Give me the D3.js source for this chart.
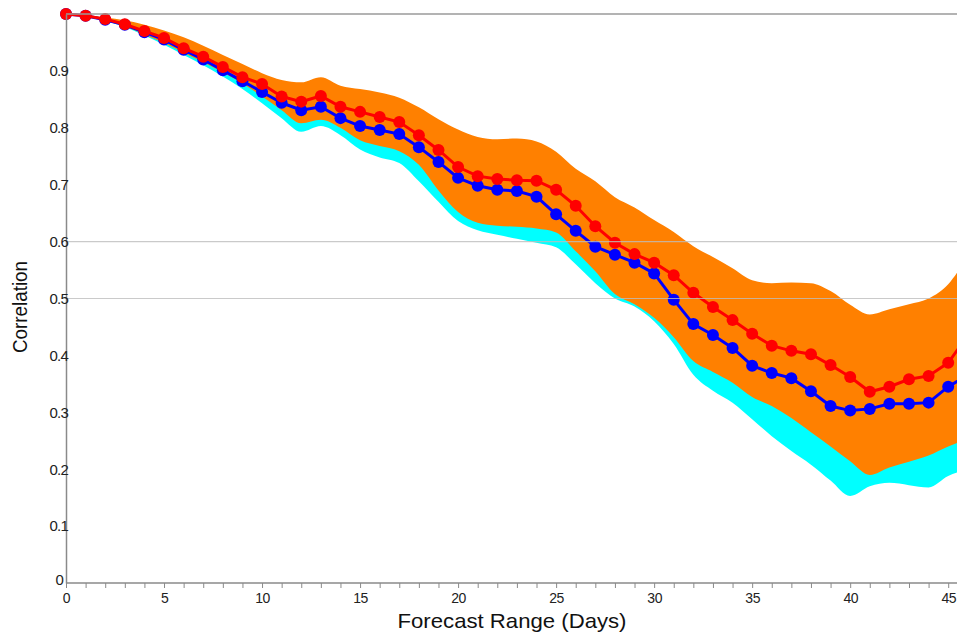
<!DOCTYPE html>
<html>
<head>
<meta charset="utf-8">
<script src="https://cdn.jsdelivr.net/npm/d3@7"></script>
<style>
  body { margin: 0; background: #fff; }
  svg { display: block; }
  text { font-family: "Liberation Sans", Arial, Helvetica, sans-serif; }
</style>
</head>
<body>
<svg id="canvas" width="957" height="634"></svg>
<script>
// forecast day 0..46 (46 only used to carry the lines past the right edge)
const days = d3.range(0, 47)

const redCorr = [1.0, 0.997, 0.991, 0.982, 0.970, 0.958, 0.940, 0.925, 0.907, 0.889,
  0.877, 0.855, 0.846, 0.856, 0.837, 0.828, 0.819, 0.810, 0.787, 0.761,
  0.731, 0.715, 0.710, 0.708, 0.707, 0.691, 0.663, 0.627, 0.598, 0.578,
  0.563, 0.541, 0.510, 0.485, 0.462, 0.438, 0.417, 0.408, 0.402, 0.383,
  0.362, 0.336, 0.345, 0.358, 0.364, 0.387, 0.435]

const blueCorr = [1.0, 0.997, 0.990, 0.981, 0.968, 0.955, 0.937, 0.920, 0.901, 0.882,
  0.863, 0.844, 0.831, 0.837, 0.817, 0.803, 0.796, 0.789, 0.766, 0.740,
  0.712, 0.698, 0.691, 0.689, 0.679, 0.648, 0.619, 0.591, 0.577, 0.563,
  0.544, 0.498, 0.455, 0.436, 0.413, 0.382, 0.369, 0.360, 0.337, 0.311,
  0.303, 0.306, 0.315, 0.315, 0.317, 0.345, 0.365]

const orangeHigh = [1.0, 0.998, 0.994, 0.989, 0.981, 0.971, 0.959, 0.944, 0.928, 0.912,
  0.896, 0.884, 0.880, 0.889, 0.874, 0.868, 0.862, 0.853, 0.836, 0.815,
  0.797, 0.784, 0.780, 0.781, 0.776, 0.758, 0.728, 0.706, 0.678, 0.660,
  0.638, 0.617, 0.592, 0.573, 0.553, 0.532, 0.527, 0.528, 0.527, 0.513,
  0.489, 0.472, 0.481, 0.490, 0.500, 0.525, 0.575]

const orangeLow = [1.0, 0.997, 0.989, 0.978, 0.964, 0.949, 0.932, 0.915, 0.897, 0.878,
  0.855, 0.831, 0.808, 0.814, 0.800, 0.778, 0.768, 0.759, 0.735, 0.690,
  0.652, 0.633, 0.628, 0.626, 0.623, 0.616, 0.583, 0.548, 0.508, 0.490,
  0.466, 0.432, 0.390, 0.371, 0.352, 0.327, 0.311, 0.290, 0.265, 0.240,
  0.214, 0.190, 0.203, 0.213, 0.224, 0.240, 0.253]

const cyanLow = [1.0, 0.996, 0.988, 0.977, 0.962, 0.946, 0.928, 0.910, 0.890, 0.868,
  0.843, 0.817, 0.793, 0.803, 0.787, 0.762, 0.748, 0.738, 0.706, 0.670,
  0.636, 0.620, 0.612, 0.605, 0.598, 0.590, 0.560, 0.527, 0.500, 0.486,
  0.460, 0.420, 0.366, 0.338, 0.317, 0.288, 0.258, 0.232, 0.208, 0.180,
  0.153, 0.170, 0.176, 0.172, 0.168, 0.188, 0.200]

const yTicks = [0, 0.1, 0.2, 0.3, 0.4, 0.5, 0.6, 0.7, 0.8, 0.9]
const xLabels = [0, 5, 10, 15, 20, 25, 30, 35, 40, 45]
const gridValues = [0.5, 0.6]

let canvas = d3.select("#canvas")

let x = d3.scaleLinear().domain([0, 45.5]).range([66, 958])
let y = d3.scaleLinear().domain([0, 1]).range([583, 14])

let rows = days.map((d, i) => ({
  day: d,
  red: redCorr[i],
  blue: blueCorr[i],
  oHi: orangeHigh[i],
  oLo: orangeLow[i],
  cLo: cyanLow[i]
}))

canvas.append("clipPath").attr("id", "clip")
  .append("rect").attr("x", 0).attr("y", 0).attr("width", 957).attr("height", 583)

let plot = canvas.append("g").attr("clip-path", "url(#clip)")

// spread bands, cyan under orange
plot.append("path")
  .datum(rows)
  .attr("fill", "#00ffff")
  .attr("d", d3.area().curve(d3.curveMonotoneX)
    .x(d => x(d.day)).y0(d => y(d.cLo)).y1(d => y(d.blue)))

plot.append("path")
  .datum(rows)
  .attr("fill", "#ff8000")
  .attr("d", d3.area().curve(d3.curveMonotoneX)
    .x(d => x(d.day)).y0(d => y(d.oLo)).y1(d => y(d.oHi)))

// light grid lines
canvas.selectAll("line.grid")
  .data(gridValues)
  .enter()
  .append("line")
  .attr("class", "grid")
  .attr("x1", x(0)).attr("x2", 957)
  .attr("y1", d => y(d)).attr("y2", d => y(d))
  .attr("stroke", "#bdbdbd")
  .attr("stroke-opacity", 0.8)
  .attr("stroke-width", 1.2)

// top frame line at 1.0
canvas.append("line")
  .attr("x1", x(0)).attr("x2", 957)
  .attr("y1", y(1)).attr("y2", y(1))
  .attr("stroke", "#9a9a9a")
  .attr("stroke-width", 1.5)

// axes
let xAxis = d3.axisBottom(x)
  .tickValues(days.filter(d => d <= 45))
  .tickSize(5)
  .tickFormat(d => xLabels.includes(d) ? d : "")

let gx = canvas.append("g")
  .attr("transform", "translate(0," + y(0) + ")")
  .call(xAxis)
gx.select(".domain").attr("d", "M" + x(0) + ",0H957").attr("stroke", "#8a8a8a").attr("stroke-width", 1.5)
gx.selectAll(".tick line").attr("stroke", "#8a8a8a")
gx.selectAll(".tick text")
  .attr("y", 10)
  .attr("font-size", 14)
  .attr("letter-spacing", -0.5)
  .attr("fill", "#222")

let yAxis = d3.axisLeft(y)
  .tickValues(yTicks)
  .tickSize(0)
  .tickPadding(0)
  .tickFormat(d => d === 0 ? "0" : d3.format(".1f")(d))

let gy = canvas.append("g")
  .attr("transform", "translate(" + x(0) + ",0)")
  .call(yAxis)
gy.select(".domain").attr("stroke", "#8a8a8a").attr("stroke-width", 1.5)
gy.selectAll(".tick text")
  .attr("x", 2)
  .attr("font-size", 15)
  .attr("letter-spacing", -0.8)
  .attr("fill", "#222")
// the "0" sits a little above the axis corner
gy.selectAll(".tick").filter(d => d === 0).select("text").attr("dy", "0.1em").attr("x", -3)

// series lines + dots (blue first, red on top)
let series = [
  {key: "blue", color: "#0000ff"},
  {key: "red", color: "#ff0000"}
]

series.forEach(s => {
  plot.append("path")
    .datum(rows)
    .attr("fill", "none")
    .attr("stroke", s.color)
    .attr("stroke-width", 3)
    .attr("d", d3.line().x(d => x(d.day)).y(d => y(d[s.key])))

  plot.selectAll("circle." + s.key)
    .data(rows)
    .enter()
    .append("circle")
    .attr("class", s.key)
    .attr("cx", d => x(d.day))
    .attr("cy", d => y(d[s.key]))
    .attr("r", 6)
    .attr("fill", s.color)
})

// axis titles
canvas.append("text")
  .attr("x", 512)
  .attr("y", 628)
  .attr("text-anchor", "middle")
  .attr("font-size", 21)
  .attr("textLength", 229)
  .attr("lengthAdjust", "spacingAndGlyphs")
  .attr("fill", "#111")
  .text("Forecast Range (Days)")

canvas.append("text")
  .attr("transform", "translate(27,307) rotate(-90)")
  .attr("text-anchor", "middle")
  .attr("font-size", 21)
  .attr("textLength", 92)
  .attr("lengthAdjust", "spacingAndGlyphs")
  .attr("fill", "#111")
  .text("Correlation")
</script>
</body>
</html>
